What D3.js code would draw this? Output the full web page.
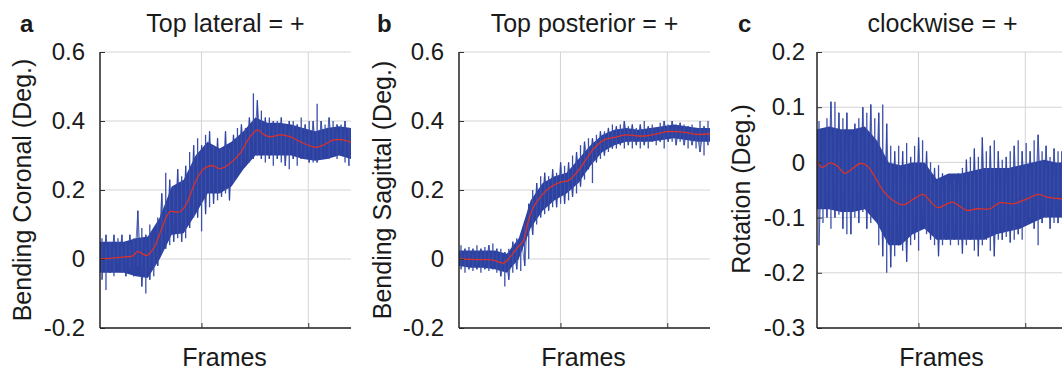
<!DOCTYPE html>
<html>
<head>
<meta charset="utf-8">
<script src="https://cdn.jsdelivr.net/npm/d3@7"></script>
<style>
  html, body { margin: 0; padding: 0; background: #fff; }
  svg { display: block; font-family: "Liberation Sans", Arial, Helvetica, sans-serif; }
</style>
</head>
<body>
<svg id="chart" width="1062" height="374"></svg>
<script>
// Shared frame axis (unlabelled ticks, grid only)
const frameDomain = [50, 2400];
const frameTicks = [1000, 2000];

// Panel a: coronal bending.
// Per-bin extremes of the raw trace (high / low), the dense core of the trace, and the smoothed trend.
const coronalHi = [0.06,0.07,0.05,0.07,0.06,0.07,0.05,0.07,0.06,0.14,
  0.09,0.07,0.10,0.09,0.12,0.19,0.25,0.23,0.21,0.26,
  0.24,0.27,0.31,0.33,0.35,0.33,0.36,0.37,0.33,0.35,
  0.32,0.37,0.32,0.36,0.38,0.39,0.38,0.41,0.48,0.46,
  0.43,0.41,0.41,0.40,0.40,0.41,0.39,0.40,0.40,0.39,
  0.41,0.39,0.40,0.40,0.45,0.40,0.39,0.41,0.40,0.39,
  0.39,0.40,0.38];
const coronalLo = [-0.06,-0.09,-0.04,-0.05,-0.03,-0.04,-0.05,-0.03,-0.05,-0.02,
  -0.08,-0.10,-0.06,-0.05,-0.02,0.02,0.03,0.04,0.05,0.06,
  0.05,0.06,0.09,0.12,0.12,0.08,0.13,0.15,0.16,0.17,
  0.18,0.19,0.17,0.22,0.25,0.27,0.27,0.28,0.29,0.30,
  0.29,0.28,0.29,0.27,0.29,0.28,0.27,0.26,0.29,0.27,
  0.29,0.29,0.28,0.28,0.28,0.29,0.30,0.29,0.30,0.29,
  0.30,0.28,0.27];
const coronalCoreHi = [0.05,0.05,0.05,0.06,0.065,0.12,0.21,0.23,0.30,0.34,0.32,0.34,0.37,0.41,0.395,0.395,0.39,0.38,0.37,0.38,0.385,0.38];
const coronalCoreLo = [-0.04,-0.04,-0.04,-0.05,-0.055,0.0,0.07,0.075,0.13,0.19,0.19,0.21,0.26,0.30,0.30,0.30,0.30,0.29,0.285,0.29,0.30,0.29];
const coronalTrendFrames = [50,237,362,400,487,550,612,674,705,799,862,924,986,1049,1111,1174,1267,1361,1454,1523,1579,1642,1735,1829,1923,2063,2141,2234,2328,2400];
const coronalTrend = [0.0,0.005,0.01,0.022,0.01,0.03,0.075,0.123,0.137,0.137,0.161,0.21,0.248,0.267,0.27,0.262,0.277,0.306,0.354,0.374,0.362,0.354,0.36,0.355,0.34,0.324,0.33,0.345,0.345,0.338];

// Panel b: sagittal bending
const sagittalHi = [0.04,0.03,0.035,0.03,0.04,0.03,0.035,0.04,0.045,0.03,
  0.03,0.02,0.03,0.05,0.06,0.07,0.10,0.16,
  0.20,0.22,0.24,0.25,0.24,0.26,0.25,0.28,0.27,0.28,0.30,0.31,0.33,0.34,0.35,0.35,0.36,0.37,0.37,0.38,0.39,0.385,0.39,
  0.40,0.385,0.39,0.38,0.39,0.40,0.385,0.39,0.38,0.395,0.40,0.39,0.40,0.39,0.395,0.39,0.385,0.39,0.38,0.40,0.385,0.40];
const sagittalLo = [-0.03,-0.04,-0.03,-0.035,-0.03,-0.04,-0.03,-0.035,-0.03,-0.04,
  -0.05,-0.08,-0.06,-0.04,-0.03,-0.035,-0.02,0.0,
  0.07,0.10,0.12,0.13,0.14,0.15,0.15,0.16,0.16,0.17,0.18,0.19,0.21,0.23,0.26,0.22,0.28,0.29,0.30,0.31,0.32,0.32,0.33,
  0.32,0.33,0.32,0.33,0.32,0.33,0.32,0.34,0.33,0.34,0.32,0.34,0.34,0.33,0.34,0.33,0.32,0.33,0.32,0.31,0.30,0.33];
const sagittalCoreHi = [0.025,0.025,0.025,0.025,0.015,0.06,0.17,0.22,0.24,0.25,0.29,0.33,0.36,0.375,0.38,0.375,0.38,0.385,0.39,0.385,0.38,0.38];
const sagittalCoreLo = [-0.02,-0.025,-0.025,-0.03,-0.04,0.0,0.09,0.14,0.17,0.19,0.22,0.27,0.31,0.33,0.34,0.34,0.34,0.345,0.35,0.345,0.34,0.34];
const sagittalTrendFrames = [50,247,371,465,527,590,652,699,746,808,902,995,1073,1151,1229,1307,1401,1495,1619,1713,1807,1900,1994,2088,2181,2275,2400];
const sagittalTrend = [0.0,-0.002,-0.003,-0.012,0.005,0.03,0.053,0.11,0.15,0.178,0.207,0.222,0.227,0.25,0.284,0.318,0.344,0.352,0.36,0.357,0.357,0.363,0.369,0.369,0.366,0.361,0.363];

// Panel c: axial rotation
const rotationHi = [0.075,0.06,0.08,0.11,0.11,0.09,0.08,0.09,0.05,0.07,
  0.08,0.10,0.09,0.105,0.08,0.09,0.105,0.07,0.03,0.02,
  0.03,0.02,0.035,0.01,0.03,0.045,0.04,0.02,0.0,-0.01,
  -0.005,-0.02,-0.03,-0.025,-0.03,-0.02,-0.01,0.005,0.01,0.025,
  0.01,0.045,0.02,0.03,0.04,0.02,0.005,0.01,0.02,0.03,
  0.04,0.02,0.035,0.02,0.04,0.05,0.02,0.03,0.01,0.025,
  0.02,0.02,0.01];
const rotationLo = [-0.15,-0.11,-0.10,-0.12,-0.10,-0.095,-0.12,-0.13,-0.13,-0.10,
  -0.11,-0.09,-0.12,-0.11,-0.10,-0.15,-0.17,-0.20,-0.19,-0.17,
  -0.15,-0.16,-0.18,-0.15,-0.14,-0.16,-0.11,-0.13,-0.14,-0.15,
  -0.17,-0.15,-0.14,-0.15,-0.14,-0.15,-0.165,-0.15,-0.14,-0.16,
  -0.17,-0.15,-0.14,-0.16,-0.17,-0.14,-0.14,-0.135,-0.145,-0.14,
  -0.13,-0.14,-0.11,-0.10,-0.12,-0.15,-0.11,-0.10,-0.12,-0.11,
  -0.11,-0.10,-0.10];
const rotationCoreHi = [0.06,0.065,0.06,0.06,0.065,0.04,0.0,-0.005,0.0,0.0,-0.03,-0.02,-0.02,-0.015,-0.01,-0.01,-0.01,-0.005,0.0,0.005,0.0,0.0];
const rotationCoreLo = [-0.085,-0.085,-0.09,-0.09,-0.085,-0.11,-0.15,-0.15,-0.13,-0.12,-0.14,-0.14,-0.14,-0.14,-0.14,-0.13,-0.125,-0.12,-0.11,-0.10,-0.10,-0.10];
const rotationTrendFrames = [50,97,172,237,312,378,453,518,612,668,762,855,949,1043,1108,1183,1258,1323,1389,1454,1548,1670,1763,1885,2016,2119,2203,2344,2400];
const rotationTrend = [0.004,-0.009,-0.001,-0.006,-0.02,-0.012,-0.002,-0.006,-0.033,-0.051,-0.069,-0.077,-0.067,-0.058,-0.07,-0.082,-0.076,-0.072,-0.08,-0.087,-0.084,-0.084,-0.073,-0.075,-0.066,-0.058,-0.063,-0.066,-0.067];

// Value axes
const bendTicks = [-0.2, 0, 0.2, 0.4, 0.6];
const bendTickLabels = ["-0.2", "0", "0.2", "0.4", "0.6"];
const rotTicks = [-0.3, -0.2, -0.1, 0, 0.1, 0.2];
const rotTickLabels = ["-0.3", "-0.2", "-0.1", "0", "0.1", "0.2"];

const panels = [
  { letter: "a", title: "Top lateral = +", yLabel: "Bending Coronal (Deg.)",
    domain: [-0.2, 0.6], ticks: bendTicks, tickLabels: bendTickLabels,
    hi: coronalHi, lo: coronalLo, coreHi: coronalCoreHi, coreLo: coronalCoreLo,
    tf: coronalTrendFrames, tv: coronalTrend,
    left: 100, letterX: 20, yLabelX: 31, yLabelY: 190, gap: 10 },
  { letter: "b", title: "Top posterior = +", yLabel: "Bending Sagittal (Deg.)",
    domain: [-0.2, 0.6], ticks: bendTicks, tickLabels: bendTickLabels,
    hi: sagittalHi, lo: sagittalLo, coreHi: sagittalCoreHi, coreLo: sagittalCoreLo,
    tf: sagittalTrendFrames, tv: sagittalTrend,
    left: 459, letterX: 377, yLabelX: 391, yLabelY: 190, gap: 10 },
  { letter: "c", title: "clockwise = +", yLabel: "Rotation (Deg.)",
    domain: [-0.3, 0.2], ticks: rotTicks, tickLabels: rotTickLabels,
    hi: rotationHi, lo: rotationLo, coreHi: rotationCoreHi, coreLo: rotationCoreLo,
    tf: rotationTrendFrames, tv: rotationTrend,
    left: 817, letterX: 738, yLabelX: 750, yLabelY: 189, gap: 7 }
];

const plotTop = 52, plotBottom = 328, plotW = 251;
const svg = d3.select("#chart");
const signalColor = "#2d42a0";
const spikeColor = "#3a4eaa";
const trendColor = "#d8322c";
const gridColor = "#d4d4d4";

panels.forEach((p, k) => {
  const h = plotBottom - plotTop;
  const x = d3.scaleLinear().domain(frameDomain).range([0, plotW]);
  const y = d3.scaleLinear().domain(p.domain).range([h, 0]);
  const g = svg.append("g").attr("transform", `translate(${p.left},${plotTop})`);

  g.append("clipPath").attr("id", "clip" + k)
    .append("rect").attr("x", 0).attr("y", -1).attr("width", plotW).attr("height", h + 2);

  // grid
  g.append("g").selectAll("line").data(p.ticks).join("line")
    .attr("x1", 0).attr("x2", plotW)
    .attr("y1", d => y(d)).attr("y2", d => y(d))
    .attr("stroke", gridColor).attr("stroke-width", 1);
  g.append("g").selectAll("line").data(frameTicks).join("line")
    .attr("x1", d => x(d)).attr("x2", d => x(d))
    .attr("y1", 0).attr("y2", h)
    .attr("stroke", gridColor).attr("stroke-width", 1);

  const plot = g.append("g").attr("clip-path", `url(#clip${k})`);

  // dense core of the raw trace
  const coreStep = (frameDomain[1] - frameDomain[0]) / (p.coreHi.length - 1);
  const core = p.coreHi.map((v, i) => ({ f: frameDomain[0] + i * coreStep, hi: v, lo: p.coreLo[i] }));
  plot.append("path").datum(core)
    .attr("fill", signalColor)
    .attr("d", d3.area().x(d => x(d.f)).y0(d => y(d.lo)).y1(d => y(d.hi)));

  // full per-bin excursions of the raw trace
  const n = p.hi.length;
  const step = (frameDomain[1] - frameDomain[0]) / n;
  const bins = p.hi.map((v, i) => ({ f: frameDomain[0] + (i + 0.5) * step, hi: v, lo: p.lo[i] }));
  plot.append("g").selectAll("line").data(bins).join("line")
    .attr("x1", d => x(d.f)).attr("x2", d => x(d.f))
    .attr("y1", d => y(d.lo)).attr("y2", d => y(d.hi))
    .attr("stroke", spikeColor).attr("stroke-width", 1.3);
  plot.append("path").datum(bins)
    .attr("fill", "none").attr("stroke", signalColor).attr("stroke-width", 0.9).attr("stroke-opacity", 0.8)
    .attr("d", d3.line().x(d => x(d.f)).y((d, i) => y(i % 2 ? d.hi : d.lo)));

  // smoothed trend
  const trend = p.tf.map((f, i) => [f, p.tv[i]]);
  plot.append("path").datum(trend)
    .attr("fill", "none").attr("stroke", trendColor).attr("stroke-width", 1.3)
    .attr("d", d3.line().x(d => x(d[0])).y(d => y(d[1])).curve(d3.curveCatmullRom.alpha(0.5)));

  // axes
  const yAxis = d3.axisLeft(y).tickValues(p.ticks).tickSize(-5)
    .tickFormat((d, i) => p.tickLabels[i]).tickPadding(p.gap + 5);
  const ya = g.append("g").call(yAxis);
  ya.select(".domain").attr("stroke", "#222").attr("stroke-width", 1.5).attr("d", `M0,0V${h}`);
  ya.selectAll(".tick line").attr("stroke", "#333");
  ya.selectAll(".tick text").attr("font-size", 24).attr("fill", "#1a1a1a")
    .attr("font-family", '"Liberation Sans", Arial, sans-serif');

  const xAxis = d3.axisBottom(x).tickValues(frameTicks).tickSize(-5).tickFormat("");
  const xa = g.append("g").attr("transform", `translate(0,${h})`).call(xAxis);
  xa.select(".domain").attr("stroke", "#222").attr("stroke-width", 1.5).attr("d", `M0,0H${plotW}`);
  xa.selectAll(".tick line").attr("stroke", "#333");

  // labels
  svg.append("text").attr("x", p.letterX).attr("y", 32)
    .attr("font-size", 24).attr("font-weight", "bold").attr("fill", "#1a1a1a").text(p.letter);
  svg.append("text").attr("x", p.left + plotW / 2).attr("y", 32)
    .attr("text-anchor", "middle").attr("font-size", 25).attr("fill", "#1a1a1a").text(p.title);
  svg.append("text").attr("x", p.left + plotW / 2 - 1).attr("y", 366)
    .attr("text-anchor", "middle").attr("font-size", 25).attr("fill", "#1a1a1a").text("Frames");
  svg.append("text").attr("transform", `translate(${p.yLabelX},${p.yLabelY}) rotate(-90)`)
    .attr("text-anchor", "middle").attr("font-size", 25).attr("fill", "#1a1a1a").text(p.yLabel);
});
</script>
</body>
</html>
